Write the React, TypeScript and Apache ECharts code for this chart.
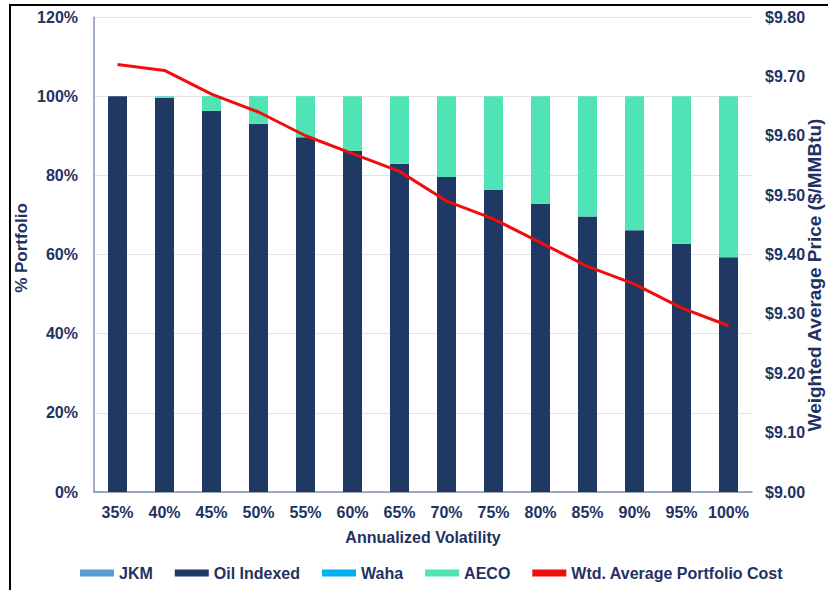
import React, { useEffect, useRef } from "react";
import * as echarts from "echarts";

const categories = ["35%", "40%", "45%", "50%", "55%", "60%", "65%", "70%", "75%", "80%", "85%", "90%", "95%", "100%"];
const jkm = [0, 0, 0, 0, 0, 0, 0, 0, 0, 0, 0, 0, 0, 0];
const oilIndexed = [100, 99.6, 96.3, 93.0, 89.6, 86.2, 82.9, 79.6, 76.3, 72.8, 69.6, 66.1, 62.7, 59.3];
const waha = [0, 0, 0, 0, 0, 0, 0, 0, 0, 0, 0, 0, 0, 0];
const aeco = [0, 0.4, 3.7, 7.0, 10.4, 13.8, 17.1, 20.4, 23.7, 27.2, 30.4, 33.9, 37.3, 40.7];
const portfolioCost = [9.72, 9.71, 9.67, 9.64, 9.6, 9.57, 9.54, 9.49, 9.46, 9.42, 9.38, 9.35, 9.31, 9.28];

const TEXT = "#1F3262";
const FONT = "Liberation Sans, Arial, sans-serif";

export default function App() {
  const ref = useRef<HTMLDivElement>(null);
  useEffect(() => {
    if (!ref.current) return;
    const chart = echarts.init(ref.current, null, { renderer: "svg" });
    const labelStyle = { color: TEXT, fontWeight: "bold" as const, fontSize: 16, fontFamily: FONT };
    chart.setOption({
      animation: false,
      backgroundColor: "#ffffff",
      textStyle: { fontFamily: FONT },
      grid: { left: 94, right: 76, top: 17, bottom: 98 },
      legend: {
        left: 75,
        top: 560,
        itemWidth: 34,
        itemHeight: 7,
        itemGap: 22,
        textStyle: { color: TEXT, fontWeight: "bold", fontSize: 16, fontFamily: FONT },
        data: [
          { name: "JKM", icon: "rect" },
          { name: "Oil Indexed", icon: "rect" },
          { name: "Waha", icon: "rect" },
          { name: "AECO", icon: "rect" },
          { name: "Wtd. Average Portfolio Cost", icon: "rect" },
        ],
      },
      xAxis: {
        type: "category",
        data: categories,
        name: "Annualized Volatility",
        nameLocation: "middle",
        nameGap: 37,
        nameTextStyle: labelStyle,
        axisLine: { lineStyle: { color: "#7F8FA9", width: 1.5 } },
        axisTick: { show: false },
        axisLabel: { ...labelStyle, margin: 12, interval: 0 },
      },
      yAxis: [
        {
          type: "value",
          min: 0,
          max: 120,
          interval: 20,
          axisLine: { show: true, lineStyle: { color: "#8496B0", width: 1.5 } },
          axisTick: { show: false },
          splitLine: { lineStyle: { color: "#E3E3E3" } },
          axisLabel: { ...labelStyle, margin: 16, formatter: (v: number) => v + "%" },
        },
        {
          type: "value",
          min: 9.0,
          max: 9.8,
          interval: 0.1,
          position: "right",
          axisLine: { show: false },
          axisTick: { show: false },
          splitLine: { show: false },
          axisLabel: { ...labelStyle, margin: 13, formatter: (v: number) => "$" + v.toFixed(2) },
        },
      ],
      graphic: [
        {
          type: "text",
          x: 30,
          y: 248,
          rotation: Math.PI / 2,
          style: {
            text: "% Portfolio",
            fill: TEXT,
            font: "bold 17px Liberation Sans, Arial, sans-serif",
            align: "center",
            verticalAlign: "bottom",
          },
        },
        {
          type: "text",
          x: 805,
          y: 275,
          rotation: Math.PI / 2,
          style: {
            text: "Weighted Average Price ($/MMBtu)",
            fill: TEXT,
            font: "bold 19px Liberation Sans, Arial, sans-serif",
            align: "center",
            verticalAlign: "top",
          },
        },
        {
          type: "polyline",
          shape: { points: [[10, 590], [10, 5], [828, 5]] },
          style: { stroke: "#000000", lineWidth: 2, fill: null },
          z: 100,
        },
      ],
      series: [
        { name: "JKM", type: "bar", stack: "p", data: jkm, barWidth: 19, itemStyle: { color: "#5B9BD5" } },
        { name: "Oil Indexed", type: "bar", stack: "p", data: oilIndexed, barWidth: 19, itemStyle: { color: "#1F3864" } },
        { name: "Waha", type: "bar", stack: "p", data: waha, barWidth: 19, itemStyle: { color: "#00B0F0" } },
        { name: "AECO", type: "bar", stack: "p", data: aeco, barWidth: 19, itemStyle: { color: "#50E3B5" } },
        {
          name: "Wtd. Average Portfolio Cost",
          type: "line",
          yAxisIndex: 1,
          data: portfolioCost,
          symbol: "none",
          lineStyle: { color: "#F20D0D", width: 3 },
          itemStyle: { color: "#F20D0D" },
          z: 5,
        },
      ],
    });
    return () => chart.dispose();
  }, []);
  return (
    <div
      ref={ref}
      style={{ position: "fixed", left: 0, top: 0, width: 828, height: 590, background: "#fff" }}
    />
  );
}
